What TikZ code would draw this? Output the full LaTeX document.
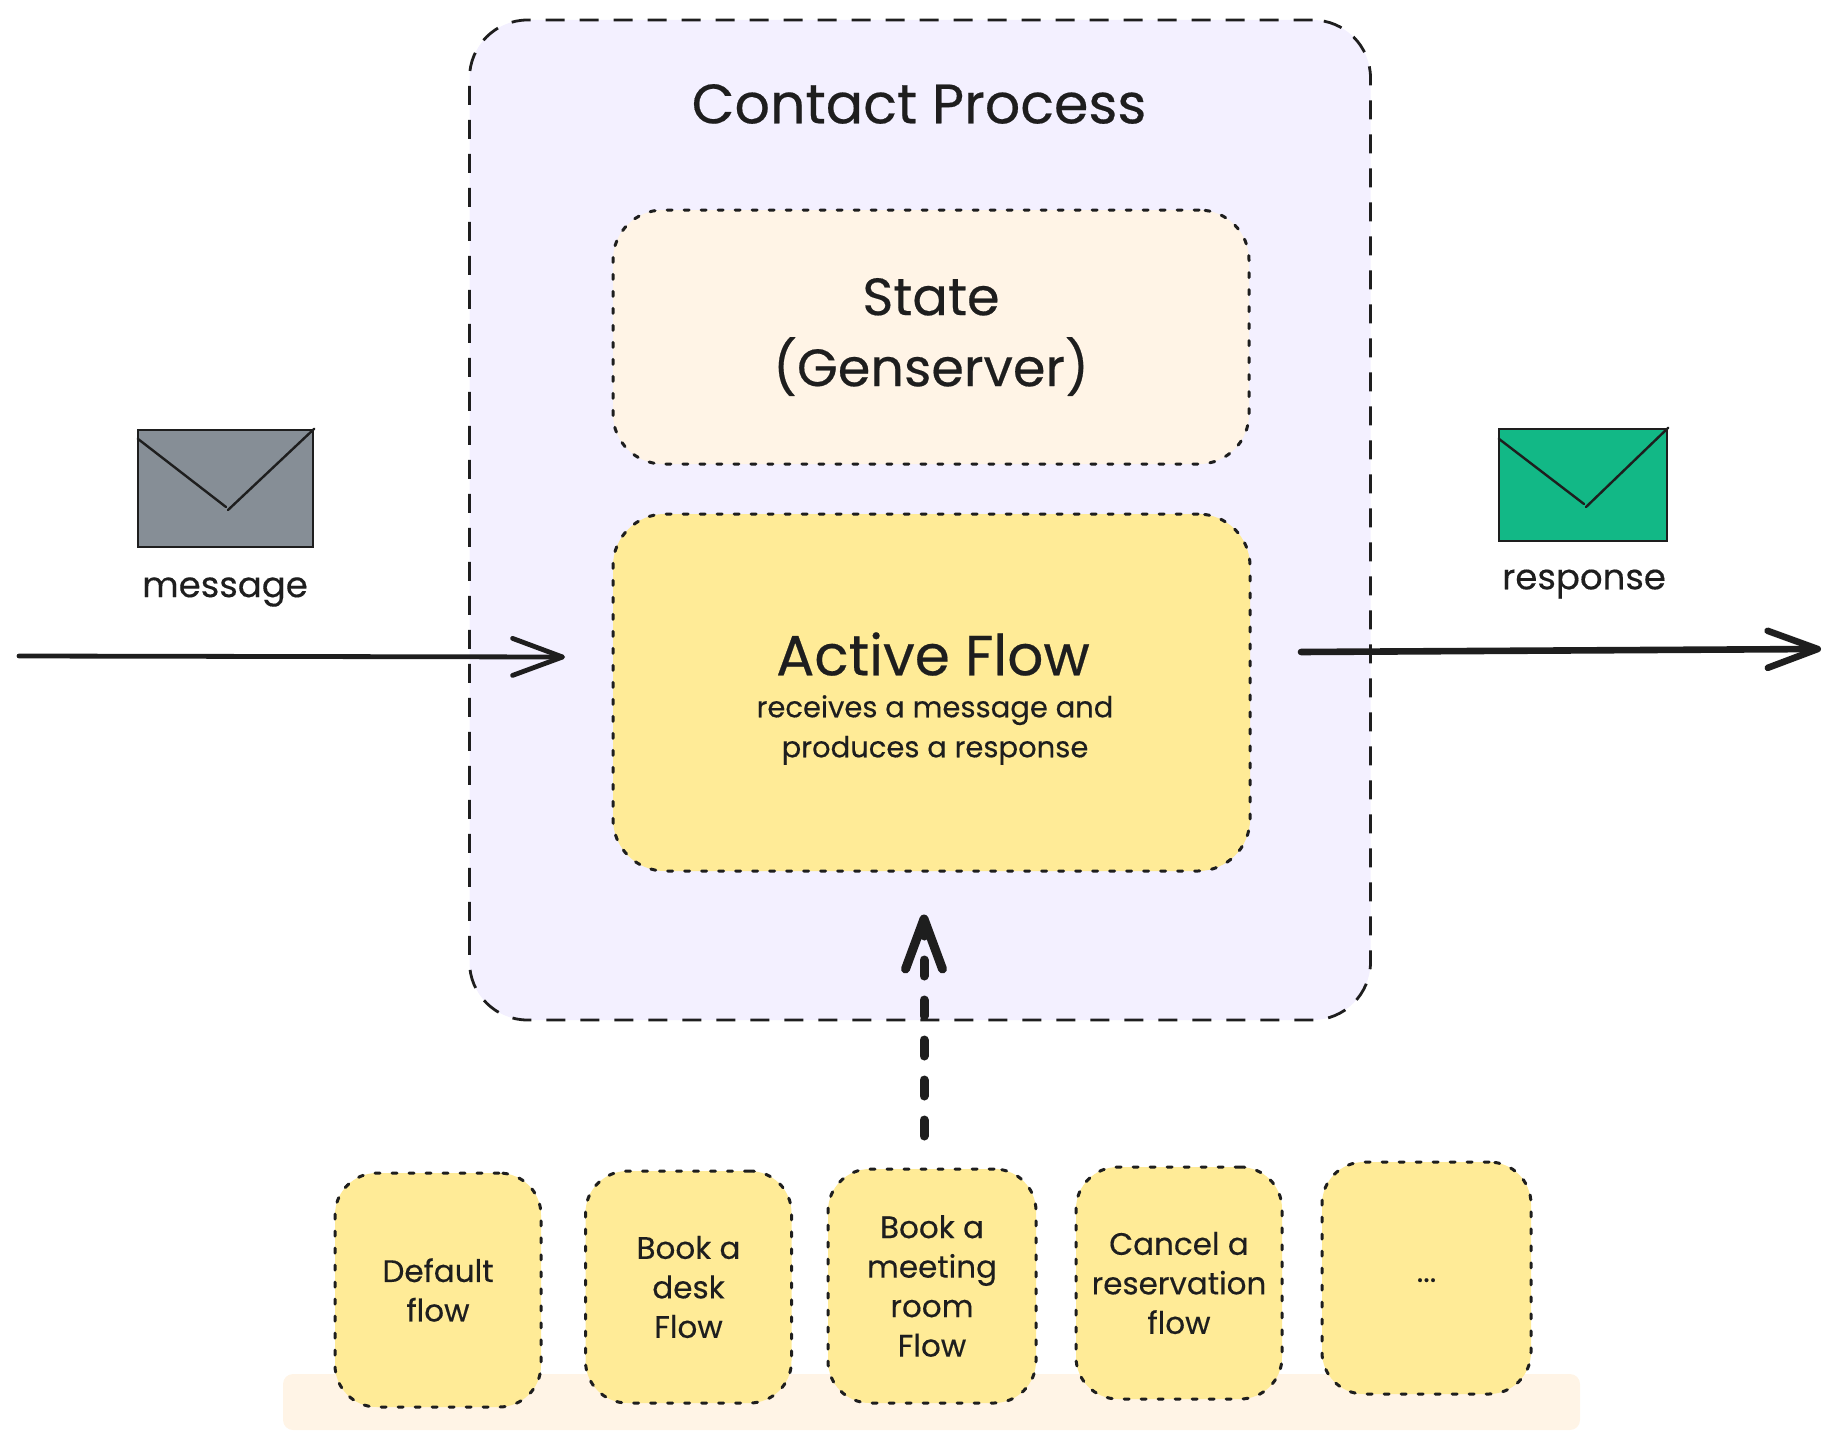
\documentclass[tikz,border=0pt]{standalone}
\usepackage{fontspec}
\setmainfont{Poppins}[FakeBold=0.35]
\usetikzlibrary{arrows.meta}
\definecolor{ink}{HTML}{1E1E1E}
\definecolor{lilac}{HTML}{F3F0FF}
\definecolor{cream}{HTML}{FFF4E6}
\definecolor{butter}{HTML}{FFEB97}
\definecolor{greymail}{HTML}{868E96}
\definecolor{greenmail}{HTML}{12B886}
\newcommand{\fsz}[2]{\fontsize{#1}{#2}\selectfont}
\tikzset{
  dottedbox/.style={draw=ink,line width=3pt,dash pattern=on 5pt off 12pt,line cap=round,align=center,text=ink,inner sep=0pt},
  flowbox/.style={dottedbox,fill=butter,rounded corners=42pt,minimum width=206pt,minimum height=232pt,font=\fsz{31}{39.5}},
  mailbox/.style={draw=ink,line width=2.6pt,inner sep=0pt},
  fold/.style={draw=ink,line width=2.4pt,line cap=round},
  lbl/.style={text=ink,inner sep=0pt,align=center},
  flowarrow/.style={draw=ink,line cap=round,-{Straight Barb[length=50pt,width=37pt,round]}},
}
\begin{document}
\begin{tikzpicture}[x=1pt,y=-1pt]
\useasboundingbox (0,0) rectangle (1838,1450);
% container
\node[draw=ink,fill=lilac,line width=2.8pt,dash pattern=on 19pt off 15pt,rounded corners=58pt,inner sep=0pt,minimum width=901pt,minimum height=1000pt] (container) at (920,520) {};
\node[lbl,font=\fsz{55.5}{60}] (ctitle) at (919,104) {Contact Process};
% state
\node[dottedbox,fill=cream,rounded corners=50pt,minimum width=636pt,minimum height=254pt] (state) at (931,337) {};
\node[lbl,font=\fsz{52.5}{71}] (stext) at (931,337) {State\\(Genserver)};
% active flow
\node[dottedbox,fill=butter,rounded corners=52pt,minimum width=637pt,minimum height=357pt] (active) at (931.5,692.5) {};
\node[lbl,font=\fsz{56.5}{60}] (atitle) at (933,654) {Active Flow};
\node[lbl,font=\fsz{29}{40}] (atext) at (935,730) {receives a message and\\produces a response};
% envelopes
\node[mailbox,fill=greymail,minimum width=175pt,minimum height=117pt] (inmail) at (225.5,488.5) {};
\draw[fold] (inmail.north east) -- (228,510) (inmail.north west)+(1,10) -- (226,507);
\node[lbl,font=\fsz{35.5}{40}] (inlabel) at (225,592) {message};
\node[mailbox,fill=greenmail,minimum width=168pt,minimum height=112pt] (outmail) at (1583,485) {};
\draw[fold] (outmail.north east) -- (1586,507) (outmail.north west)+(1,11) -- (1584,504);
\node[lbl,font=\fsz{35.5}{40}] (outlabel) at (1584,584) {response};
% flows
\node[draw=none,fill=cream,rounded corners=10pt,minimum width=1297pt,minimum height=56pt,inner sep=0pt] (shelf) at (931.5,1402) {};
\node[flowbox,minimum height=234pt] (flowA) at (438,1290) {Default\\flow};
\node[flowbox] (flowB) at (688.5,1287) {Book a\\desk\\Flow};
\node[flowbox,minimum width=208pt,minimum height=234pt] (flowC) at (932,1286) {Book a\\meeting\\room\\Flow};
\node[flowbox] (flowD) at (1179,1283) {Cancel a\\reservation\\flow};
\node[flowbox,minimum width=209pt] (flowE) at (1426.5,1278) {\raisebox{-8pt}{...}};
% connectors
\coordinate (inStart) at (19,656);
\coordinate (inEnd) at (565,657);
\coordinate (outStart) at (1301,652);
\coordinate (outEnd) at (1821,649);
\draw[flowarrow,line width=4.8pt] (inStart) -- (inEnd);
\draw[flowarrow,line width=6.6pt] (outStart) -- (outEnd);
\draw[flowarrow,line width=9pt,dash pattern=on 16pt off 24pt] ([xshift=-8pt,yshift=31.5pt]flowC.north) -- ([xshift=-7.5pt,yshift=-42pt]active.south);
\end{tikzpicture}
\end{document}
